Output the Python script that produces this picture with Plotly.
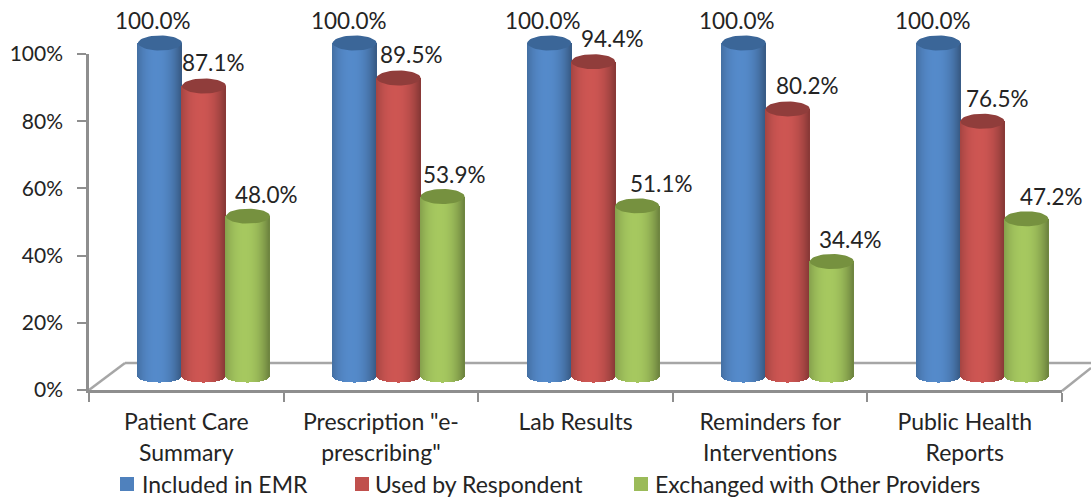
import math
import plotly.graph_objects as go

# ---------- data ----------
CATEGORIES = ["Patient Care Summary", 'Prescription "e-prescribing"', "Lab Results",
              "Reminders for Interventions", "Public Health Reports"]
TICK_LINES = [["Patient Care", "Summary"], ['Prescription "e-', 'prescribing"'], ["Lab Results"],
              ["Reminders for", "Interventions"], ["Public Health", "Reports"]]
SERIES_NAMES = ["Included in EMR", "Used by Respondent", "Exchanged with Other Providers"]
INCLUDED = [100.0, 100.0, 100.0, 100.0, 100.0]
USED = [87.1, 89.5, 94.4, 80.2, 76.5]
EXCHANGED = [48.0, 53.9, 51.1, 34.4, 47.2]
SERIES = [INCLUDED, USED, EXCHANGED]

# ---------- styles ----------
W, H = 1091, 498
TEXT = "#242424"
AXIS = "#8e8e8e"
FONT = "Lato"
BASE_RGB = [(79, 129, 189), (192, 80, 77), (155, 187, 89)]
CAP = ["#3b6698", "#903d3b", "#76913f"]
LABEL_DX = [[-7, -6, -6, -7, -5], [9, 13, 19, 20, 15], [18, 12, 24, 19, 25]]
LABEL_DY = [-23, -23, -22]
LEGEND_SQUARE_X = [120, 355, 634]
LEGEND_TEXT_X = [140, 373, 653]
LEGEND_Y = 484

# pixel geometry of the drawing
AX_L, AX_R, AX_T, AX_B = 89, 1062, 54, 390
CAT_W = (AX_R - AX_L) / 5
GROUP0 = 204          # x pixel of first group's centre
CYL_W = 44            # cylinder width in px
BASE_PX = 376         # y pixel of the cylinder base centre
PX_PER_PCT = 3.33
BASE_RY = 6.5
TOP_RY = 7.5
N = CYL_W

xunit = 1 / CAT_W
yunit = 1 / PX_PER_PCT
x2_range = [(0 - GROUP0) * xunit, (W - GROUP0) * xunit]
y2_range = [(BASE_PX - H) * yunit, BASE_PX * yunit]


def shade(rgb, u):
    m = 0.70 + 0.37 * (1 - min(1, abs(u + 0.12) / 1.12) ** 2.2)
    return "rgb(%d,%d,%d)" % tuple(min(255, round(c * m)) for c in rgb)


fig = go.Figure()

# empty trace: owns the category axis
fig.add_trace(go.Bar(x=CATEGORIES, y=[None] * 5, xaxis="x", yaxis="y",
                     showlegend=False, hoverinfo="skip"))

# cylinders: each is a run of one-pixel strips, then an elliptical cap
for s, values in enumerate(SERIES):
    xs, ys, bases, colors = [], [], [], []
    cap_x, cap_y = [], []
    off = (s - 1) * CYL_W * xunit
    for c, v in enumerate(values):
        cx = c + off
        for k in range(N):
            u = -1 + (2 * k + 1) / N
            curve = math.sqrt(max(0, 1 - u * u))
            bottom = -BASE_RY * curve * yunit
            xs.append(cx + u * CYL_W / 2 * xunit)
            bases.append(bottom)
            ys.append(v - bottom)
            colors.append(shade(BASE_RGB[s], u))
        for a in range(49):
            t = 2 * math.pi * a / 48
            cap_x.append(cx + math.cos(t) * CYL_W / 2 * xunit)
            cap_y.append(v + math.sin(t) * TOP_RY * yunit)
        cap_x.append(None)
        cap_y.append(None)
    fig.add_trace(go.Bar(
        x=xs, y=ys, base=bases, width=CYL_W / N * xunit * 1.02, xaxis="x2", yaxis="y2",
        name=SERIES_NAMES[s], marker=dict(color=colors, line=dict(width=0)),
        showlegend=False, hoverinfo="skip", cliponaxis=False))
    fig.add_trace(go.Scatter(
        x=cap_x, y=cap_y, mode="lines", fill="toself", fillcolor=CAP[s],
        line=dict(width=0, color=CAP[s]), xaxis="x2", yaxis="y2",
        showlegend=False, hoverinfo="skip"))

# value labels
annotations = []
for s, values in enumerate(SERIES):
    off = (s - 1) * CYL_W * xunit
    for c, v in enumerate(values):
        annotations.append(dict(
            x=c + off, y=v, xref="x2", yref="y2", text=f"{v:.1f}%", showarrow=False,
            xshift=LABEL_DX[s][c], yshift=-LABEL_DY[s], font=dict(family=FONT, size=22.5, color=TEXT)))

# floor of the 3-D box
FLOOR = [((89, 390), (125, 363)), ((125, 363), (1091, 363)), ((1062, 391), (1091, 368))]
shapes = [dict(type="line", xref="paper", yref="paper", layer="below",
               x0=a[0] / W, y0=1 - a[1] / H, x1=b[0] / W, y1=1 - b[1] / H,
               line=dict(color="#a6a6a6", width=2.5)) for a, b in FLOOR]

# legend row: colour squares and real text
for s, name in enumerate(SERIES_NAMES):
    x0 = LEGEND_SQUARE_X[s]
    shapes.append(dict(type="rect", xref="paper", yref="paper", layer="above",
                       x0=x0 / W, x1=(x0 + 14) / W,
                       y0=1 - (LEGEND_Y + 7) / H, y1=1 - (LEGEND_Y - 7) / H,
                       fillcolor="rgb(%d,%d,%d)" % BASE_RGB[s], line=dict(width=0)))
    annotations.append(dict(
        x=LEGEND_TEXT_X[s] / W, y=1 - LEGEND_Y / H, xref="paper", yref="paper", text=name,
        xanchor="left", yanchor="middle", showarrow=False,
        font=dict(family=FONT, size=23, color=TEXT)))

fig.update_layout(
    width=W, height=H, margin=dict(l=0, r=0, t=0, b=0), autosize=False,
    paper_bgcolor="white", plot_bgcolor="rgba(0,0,0,0)",
    font=dict(family=FONT, size=20, color=TEXT),
    barmode="overlay", bargap=0, showlegend=False,
    annotations=annotations, shapes=shapes,
    xaxis=dict(domain=[AX_L / W, AX_R / W], type="category", range=[-0.5, 4.5], automargin=False,
               categoryorder="array", categoryarray=CATEGORIES,
               tickmode="array", tickvals=CATEGORIES,
               ticktext=["<br>".join(f"<span style='font-size:23px'>{t}</span>" for t in lines)
                         for lines in TICK_LINES],
               tickson="boundaries", ticks="outside", ticklen=9, tickwidth=2, tickcolor=AXIS,
               ticklabelstandoff=8,
               tickfont=dict(size=24, family=FONT, color=TEXT), tickangle=0,
               showline=True, linecolor=AXIS, linewidth=2.5, showgrid=False, zeroline=False,
               anchor="y", fixedrange=True),
    yaxis=dict(domain=[1 - AX_B / H, 1 - AX_T / H], range=[0, 100], tickmode="array", automargin=False,
               tickvals=[0, 20, 40, 60, 80, 100], ticktext=["0%", "20%", "40%", "60%", "80%", "100%"],
               ticks="outside", ticklen=9, tickwidth=2, tickcolor=AXIS, ticklabelstandoff=10,
               tickfont=dict(size=21, family=FONT, color=TEXT),
               showline=True, linecolor=AXIS, linewidth=2.5, showgrid=False, zeroline=False,
               anchor="x", fixedrange=True),
    xaxis2=dict(domain=[0, 1], range=x2_range, visible=False, anchor="y2", fixedrange=True, automargin=False),
    yaxis2=dict(domain=[0, 1], range=y2_range, visible=False, anchor="x2", fixedrange=True, automargin=False),
)

fig.write_html("out.html", config={"displayModeBar": False},
               post_script="document.body.style.margin='0';")
